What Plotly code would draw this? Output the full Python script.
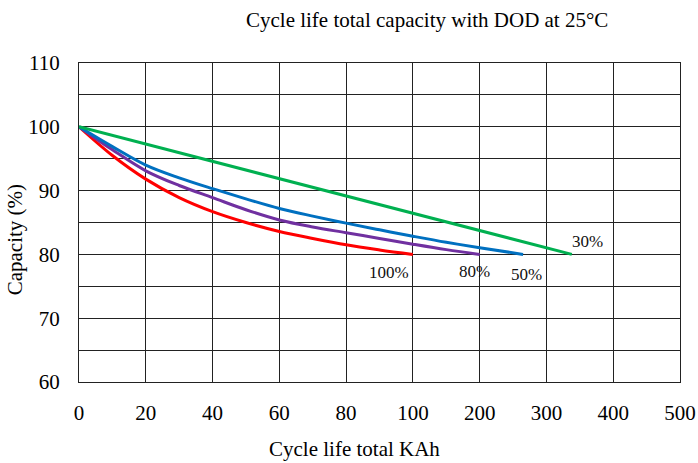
import numpy as np
import plotly.graph_objects as go

# Non-uniform x axis: tick labels at equally spaced positions
x_tick_values = [0, 20, 40, 60, 80, 100, 200, 300, 400, 500]
x_tick_labels = ["0", "20", "40", "60", "80", "100", "200", "300", "400", "500"]
y_tick_values = [60, 70, 80, 90, 100, 110]

# Series (x in KAh, y in capacity %)
dod100_x = [0, 10, 20, 30, 40, 50, 60, 70, 80, 90, 100]
dod100_y = [100, 95.5, 91.8, 88.9, 86.7, 85.0, 83.6, 82.5, 81.5, 80.7, 80.0]

dod80_x = [0, 10, 20, 30, 40, 50, 60, 70, 80, 90, 100, 150, 200]
dod80_y = [100, 96.4, 93.1, 90.8, 88.9, 87.0, 85.4, 84.3, 83.4, 82.5, 81.6, 80.75, 80.0]

dod50_x = [0, 10, 20, 30, 40, 50, 60, 70, 80, 90, 100, 150, 200, 265]
dod50_y = [100, 96.9, 94.0, 92.0, 90.3, 88.7, 87.2, 86.0, 84.9, 83.85, 82.85, 81.9, 81.05, 80.0]

dod30_x = [0, 338]
dod30_y = [100, 80]

series = [
    ("100%", dod100_x, dod100_y, "#FF0000"),
    ("80%", dod80_x, dod80_y, "#7030A0"),
    ("50%", dod50_x, dod50_y, "#0070C0"),
    ("30%", dod30_x, dod30_y, "#00B050"),
]

# label anchor points (KAh, %)
label_pos = {
    "100%": (92.8, 77.1),
    "80%": (192.0, 77.3),
    "50%": (270.0, 76.8),
    "30%": (362.0, 82.1),
}

positions = list(range(len(x_tick_values)))


def to_pos(v):
    return np.interp(np.asarray(v, dtype=float), x_tick_values, positions)


fig = go.Figure()
for name, xs, ys, col in series:
    fig.add_trace(go.Scatter(
        x=to_pos(xs), y=ys, mode="lines", name=name,
        line=dict(color=col, width=3, shape="spline", smoothing=1.0),
        showlegend=False, hoverinfo="skip",
    ))

for name, (lx, ly) in label_pos.items():
    fig.add_annotation(x=float(to_pos(lx)), y=ly, text=name, showarrow=False,
                       font=dict(family="Liberation Serif", size=17, color="#111111"))

fig.update_layout(
    width=698, height=463,
    margin=dict(l=79, r=18, t=63, b=81, autoexpand=False),
    paper_bgcolor="white", plot_bgcolor="white",
    font=dict(family="Liberation Serif", size=21, color="black"),
    title=dict(text="Cycle life total capacity with DOD at 25\u00b0C",
               x=0.612, xanchor="center", y=0.958, yanchor="middle",
               font=dict(family="Liberation Serif", size=21, color="black")),
    xaxis=dict(range=[0, 9], tickvals=positions, ticktext=x_tick_labels,
               showgrid=True, gridcolor="#222222", gridwidth=1,
               showline=True, linecolor="#222222", linewidth=1, mirror=True,
               ticks="", ticklabelstandoff=12, zeroline=False, automargin=False,
               tickfont=dict(family="Liberation Serif", size=21)),
    yaxis=dict(range=[60, 110], tickvals=y_tick_values,
               showgrid=True, gridcolor="#222222", gridwidth=1,
               minor=dict(tick0=60, dtick=5, showgrid=True, gridcolor="#222222", gridwidth=1),
               showline=True, linecolor="#222222", linewidth=1, mirror=True,
               ticks="", ticklabelstandoff=14, zeroline=False, automargin=False,
               tickfont=dict(family="Liberation Serif", size=21)),
)

fig.add_annotation(xref="paper", yref="paper", x=-0.106, y=0.445, xanchor="center", yanchor="middle",
                   text="Capacity (%)", textangle=-90, showarrow=False,
                   font=dict(family="Liberation Serif", size=21, color="black"))
fig.add_annotation(xref="paper", yref="paper", x=0.458, y=-0.21, xanchor="center", yanchor="middle",
                   text="Cycle life total KAh", showarrow=False,
                   font=dict(family="Liberation Serif", size=21, color="black"))

fig.write_html("out.html", config={"displayModeBar": False},
               post_script="document.body.style.margin='0px';document.body.style.overflow='hidden';")
